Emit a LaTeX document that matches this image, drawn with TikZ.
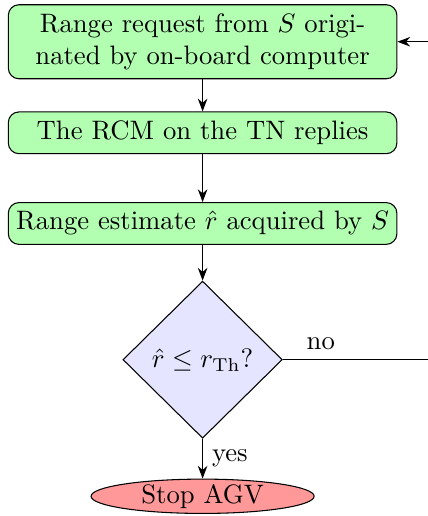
\documentclass[tikz,border=0pt]{standalone}
\usetikzlibrary{shapes.geometric,arrows.meta}

\begin{document}
\begin{tikzpicture}[
  block/.style={draw, rounded corners, fill=green!30, text width=4.98cm, inner xsep=2pt, align=center},
  decision/.style={draw, diamond, fill=blue!10, inner sep=1pt, minimum width=2.1cm, minimum height=2.07cm},
  stopnode/.style={draw, ellipse, fill=red!40, inner sep=0pt, minimum width=2.94cm},
  line/.style={draw, -{Stealth}}]
\useasboundingbox (0,0) rectangle (5.63,-6.8);
\node[block] (request) at (2.67,-0.55) {Range request from $S$ origi-\\nated by on-board computer};
\node[block] (reply) at (2.67,-1.75) {The RCM on the TN replies};
\node[block] (estimate) at (2.67,-2.945) {Range estimate $\hat{r}$ acquired by $S$};
\node[decision] (check) at (2.67,-4.74) {$\hat{r}\leq r_{\mathrm{Th}}$?};
\node[stopnode] (stop) at (2.67,-6.54) {Stop AGV};
\coordinate (back) at (6,-4.74);
\path[line] (request) -- (reply);
\path[line] (reply) -- (estimate);
\path[line] (estimate) -- (check);
\path[line] (check) -- node[right] {yes} (stop);
\path[line] (check) -- node[above, pos=0.22] {no} (back) |- (request);
\end{tikzpicture}
\end{document}
